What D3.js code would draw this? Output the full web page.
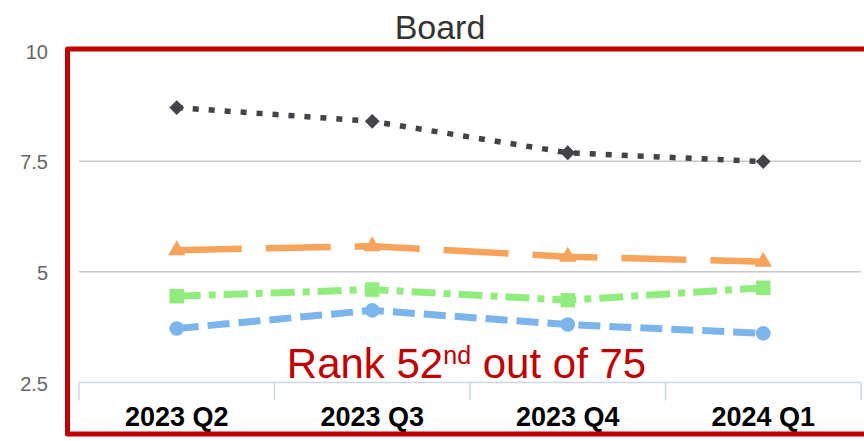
<!DOCTYPE html>
<html>
<head>
<meta charset="utf-8">
<script src="https://cdn.jsdelivr.net/npm/d3@7"></script>
<style>
  html, body { margin: 0; padding: 0; background: #fff; }
  svg { display: block; font-family: Arial, "Liberation Sans", sans-serif; }
</style>
</head>
<body>
<svg id="chart" width="864" height="441"></svg>
<script>
// ---- data ----
const categories = ["2023 Q2", "2023 Q3", "2023 Q4", "2024 Q1"];
const blueValues   = [3.72, 4.13, 3.81, 3.61];
const blackValues  = [8.71, 8.40, 7.69, 7.49];
const greenValues  = [4.45, 4.60, 4.36, 4.64];
const orangeValues = [5.49, 5.58, 5.34, 5.23];
const yTicks = [2.5, 5, 7.5, 10];
const yTickLabels = ["2.5", "5", "7.5", "10"];
const gridValues = [5, 7.5];
const titleText = "Board";
const rankMain = "Rank 52";
const rankSup = "nd";
const rankTail = " out of 75";

const series = [
  { name: "blue",   values: blueValues,   color: "#7cb5ec", width: 7,   dash: "22,9",      marker: "circle" },
  { name: "black",  values: blackValues,  color: "#434348", width: 5.5, dash: "6,10",      marker: "diamond" },
  { name: "green",  values: greenValues,  color: "#90ed7d", width: 7,   dash: "24,8,7,8",  marker: "square" },
  { name: "orange", values: orangeValues, color: "#f7a35c", width: 6.5, dash: "65,24",     marker: "triangle" }
];

// ---- layout ----
const svg = d3.select("#chart");
const plotLeft = 79, plotRight = 861, plotTop = 50.5, plotBottom = 382.5;

const x = d3.scaleBand().domain(categories).range([plotLeft, plotRight]);
const y = d3.scaleLinear().domain([2.5, 10]).range([plotBottom, plotTop]);

// title
svg.append("text")
  .attr("x", 440).attr("y", 39)
  .attr("text-anchor", "middle")
  .attr("font-size", 34)
  .attr("fill", "#333333")
  .text(titleText);

// gridlines
svg.append("g").selectAll("line").data(gridValues).join("line")
  .attr("x1", plotLeft).attr("x2", plotRight)
  .attr("y1", d => y(d)).attr("y2", d => y(d))
  .attr("stroke", "#c8c8c8").attr("stroke-width", 1.5);

// y labels
svg.append("g").selectAll("text").data(yTicks).join("text")
  .attr("x", 48).attr("y", d => y(d) + 8)
  .attr("text-anchor", "end")
  .attr("font-size", 20)
  .attr("fill", "#666666")
  .text((d, i) => yTickLabels[i]);

// x axis
const xAxis = d3.axisBottom(x).tickSize(0).tickFormat("");
const gx = svg.append("g").attr("transform", `translate(0,${plotBottom})`).call(xAxis);
gx.select(".domain").remove();
gx.append("line").attr("x1", plotLeft).attr("x2", plotRight).attr("y1", 0).attr("y2", 0)
  .attr("stroke", "#ccd6eb").attr("stroke-width", 1.5);
const bounds = categories.map(c => x(c)).concat([x(categories[categories.length - 1]) + x.bandwidth()]);
gx.selectAll("line.bt").data(bounds).join("line").attr("class", "bt")
  .attr("x1", d => d).attr("x2", d => d).attr("y1", 0).attr("y2", 18)
  .attr("stroke", "#ccd6eb").attr("stroke-width", 1.5);
gx.selectAll("text.cat").data(categories).join("text").attr("class", "cat")
  .attr("x", d => x(d) + x.bandwidth() / 2).attr("y", 43)
  .attr("text-anchor", "middle")
  .attr("font-size", 27).attr("font-weight", "bold")
  .attr("fill", "#000")
  .text(d => d);

// lines + markers
const cx = c => x(c) + x.bandwidth() / 2;
const line = d3.line().x((d, i) => cx(categories[i])).y(d => y(d));
const diamondSym = { draw(ctx, size) { const r = Math.sqrt(size / 2); ctx.moveTo(0, -r); ctx.lineTo(r, 0); ctx.lineTo(0, r); ctx.lineTo(-r, 0); ctx.closePath(); } };
const symbolMap = { circle: d3.symbolCircle, diamond: diamondSym, square: d3.symbolSquare, triangle: d3.symbolTriangle };
const sizeMap = { circle: 170, diamond: 110, square: 210, triangle: 130 };

series.forEach(s => {
  const g = svg.append("g");
  g.append("path").datum(s.values)
    .attr("d", line)
    .attr("fill", "none")
    .attr("stroke", s.color)
    .attr("stroke-width", s.width)
    .attr("stroke-dasharray", s.dash)
    .attr("stroke-linecap", "butt");
  g.selectAll("path.m").data(s.values).join("path").attr("class", "m")
    .attr("transform", (d, i) => `translate(${cx(categories[i])},${y(d)})`)
    .attr("d", d3.symbol().type(symbolMap[s.marker]).size(sizeMap[s.marker])())
    .attr("fill", s.color);
});

// rank text
const rt = svg.append("text")
  .attr("x", 466.5).attr("y", 378)
  .attr("text-anchor", "middle")
  .attr("font-size", 42)
  .attr("fill", "#c00000");
rt.append("tspan").text(rankMain);
rt.append("tspan").attr("font-size", 25).attr("dy", -14).text(rankSup);
rt.append("tspan").attr("dy", 14).text(rankTail);

// red frame
const fp = d3.path();
fp.moveTo(864, 49); fp.lineTo(67.5, 49); fp.lineTo(67.5, 434); fp.lineTo(864, 434);
svg.append("path")
  .attr("d", fp.toString())
  .attr("fill", "none")
  .attr("stroke", "#c00000")
  .attr("stroke-width", 5)
  .attr("stroke-linejoin", "round");
</script>
</body>
</html>
